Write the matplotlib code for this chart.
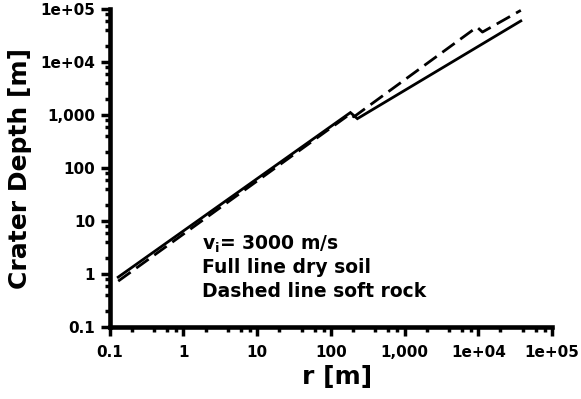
import matplotlib
matplotlib.use("Agg")
import matplotlib.pyplot as plt
from matplotlib.ticker import FixedLocator, FixedFormatter, NullFormatter

# Data
soil_r = [0.13, 184, 229, 37800]
soil_depth = [0.88, 1120, 860, 60000]

rock_r = [0.13, 182, 205, 9600, 11400, 37800]
rock_depth = [0.74, 1050, 930, 46000, 37000, 95000]

major_ticks = [0.1, 1, 10, 100, 1000, 1e4, 1e5]
tick_labels = ["0.1", "1", "10", "100", "1,000", "1e+04", "1e+05"]
minor_mult = [2, 4, 6, 8]

annotation = [r"v$_\mathbf{i}$= 3000 m/s", "Full line dry soil", "Dashed line soft rock"]

plt.rcParams['font.family'] = ['DejaVu Sans']
plt.rcParams['font.weight'] = 'bold'
plt.rcParams['mathtext.default'] = 'bf'

fig = plt.figure(figsize=(5.81, 3.99), dpi=100)
ax = fig.add_axes([0.189, 0.180, 0.761, 0.797])

ax.plot(soil_r, soil_depth, color='black', lw=2.0, solid_joinstyle='miter')
ax.plot(rock_r, rock_depth, color='black', lw=2.0, ls=(0, (5.5, 2.5)))

ax.set_xscale('log')
ax.set_yscale('log')
ax.set_xlim(0.1, 1e5)
ax.set_ylim(0.1, 1e5)

minors = [m * d for d in major_ticks[:-1] for m in minor_mult]
for axis in (ax.xaxis, ax.yaxis):
    axis.set_major_locator(FixedLocator(major_ticks))
    axis.set_major_formatter(FixedFormatter(tick_labels))
    axis.set_minor_locator(FixedLocator(minors))
    axis.set_minor_formatter(NullFormatter())

ax.tick_params(which='major', length=6.5, width=2.5, direction='out', labelsize=11)
ax.tick_params(which='minor', length=3.5, width=2.5, direction='out')
ax.tick_params(axis='x', which='major', pad=6)
ax.tick_params(axis='y', which='major', pad=4)
for lbl in ax.get_xticklabels() + ax.get_yticklabels():
    lbl.set_fontweight('bold')

for s in ['top', 'right']:
    ax.spines[s].set_visible(False)
for s in ['left', 'bottom']:
    ax.spines[s].set_linewidth(3.3)

ax.set_xlabel("r [m]", fontsize=18, fontweight='bold')
ax.xaxis.set_label_coords(0.514, -0.118)
ax.set_ylabel("Crater Depth [m]", fontsize=18, fontweight='bold', labelpad=6)

for i, t in enumerate(annotation):
    ax.text(0.208, 0.262 - i * 0.075, t, transform=ax.transAxes, fontsize=13.5,
            fontweight='bold', va='center', ha='left')

fig.savefig("out.png", dpi=100)
